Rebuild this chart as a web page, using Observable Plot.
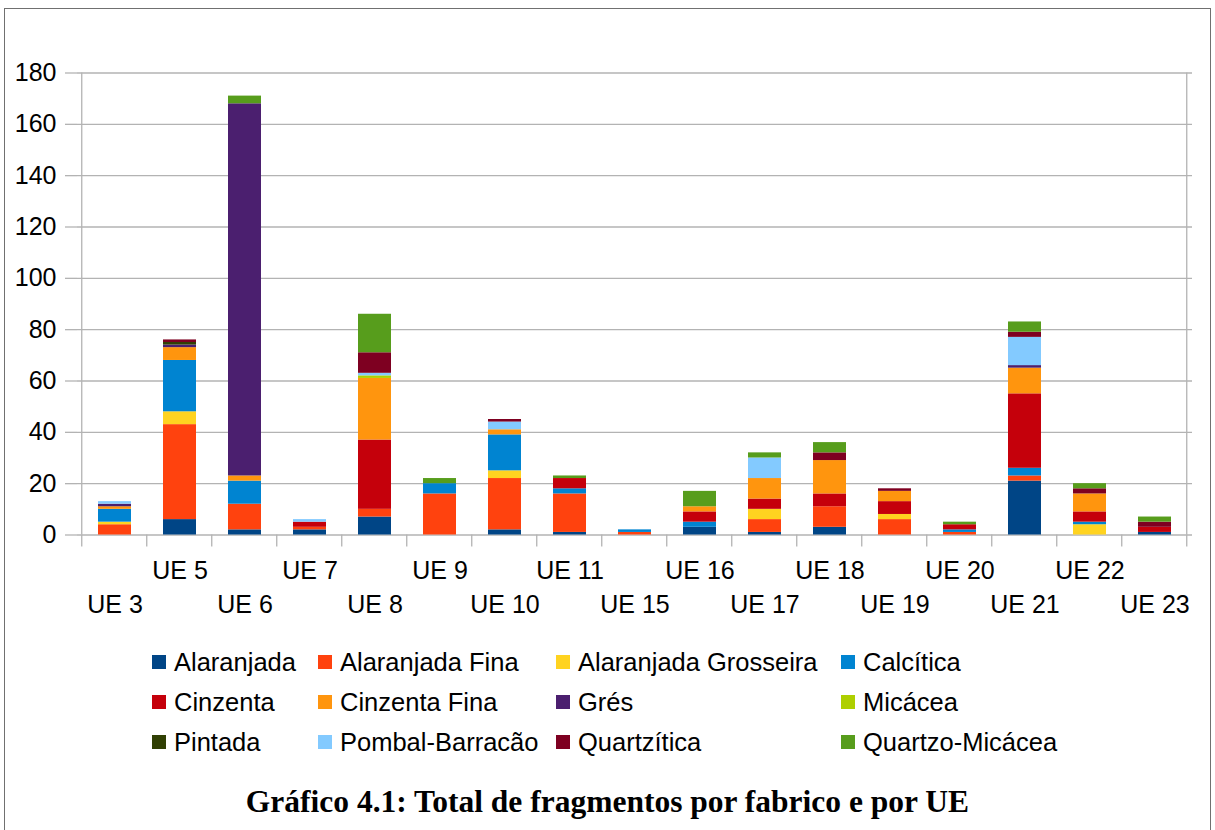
<!DOCTYPE html>
<html><head><meta charset="utf-8">
<script src="https://cdn.jsdelivr.net/npm/d3@7"></script>
<script src="https://cdn.jsdelivr.net/npm/@observablehq/plot@0.6"></script>
<style>
body{margin:0;background:#fff;font-family:"Liberation Sans",Arial,sans-serif;}
#wrap{position:relative;width:1215px;height:830px;overflow:hidden;background:#fff;}
#border{position:absolute;left:4px;top:8px;width:1207px;height:900px;border:1.5px solid #707070;box-sizing:border-box;}
#chart{position:absolute;left:0;top:0;}
.leg{position:absolute;display:flex;align-items:center;height:30px;font-size:25.5px;white-space:nowrap;color:#000;}
.sw{width:14px;height:14px;margin-right:8px;flex:none;}
#title{position:absolute;left:0;width:1215px;top:784px;line-height:38px;text-align:center;font:bold 31.5px "Liberation Serif","Times New Roman",serif;color:#000;}
</style></head>
<body>
<div id="wrap"><div id="border"></div><div id="chart"></div><div id="legend"></div><div id="title"></div></div>
<script>
const categories = ["UE 3","UE 5","UE 6","UE 7","UE 8","UE 9","UE 10","UE 11","UE 15","UE 16","UE 17","UE 18","UE 19","UE 20","UE 21","UE 22","UE 23"];
const series = ["Alaranjada","Alaranjada Fina","Alaranjada Grosseira","Calcítica","Cinzenta","Cinzenta Fina","Grés","Micácea","Pintada","Pombal-Barracão","Quartzítica","Quartzo-Micácea"];
const colors = ["#004586","#ff420e","#ffd320","#0084d1","#c5000b","#ff950e","#4b1f6f","#aecf00","#314004","#83caff","#7e0021","#579d1c"];
const yTicks = [0,20,40,60,80,100,120,140,160,180];

const alaranjada          = [0, 6,  2, 2,  7,  0,  2,  1, 0, 3, 1, 3, 0, 0, 21, 0, 1];
const alaranjadaFina      = [4, 37, 10, 1, 3,  16, 20, 15, 1, 0, 5, 8, 6, 1, 2,  0, 0];
const alaranjadaGrosseira = [1, 5,  0, 0,  0,  0,  3,  0, 0, 0, 4, 0, 2, 0, 0,  4, 0];
const calcitica           = [5, 20, 9, 0,  0,  4,  14, 2, 1, 2, 0, 0, 0, 1, 3,  1, 0];
const cinzenta            = [0, 0,  0, 2,  27, 0,  0,  4, 0, 4, 4, 5, 5, 2, 29, 4, 2];
const cinzentaFina        = [1, 5,  2, 0,  24, 0,  2,  0, 0, 2, 8, 13, 4, 0, 10, 7, 0];
const gres                = [1, 1, 145, 0, 0,  0,  0,  0, 0, 0, 0, 0, 0, 0, 1,  0, 0];
const micacea             = [0, 0,  0, 0,  1,  0,  0,  0, 0, 0, 0, 0, 0, 0, 0,  0, 0];
const pintada             = [0, 1,  0, 0,  0,  0,  0,  0, 0, 0, 0, 0, 0, 0, 0,  0, 0];
const pombalBarracao      = [1, 0,  0, 1,  1,  0,  3,  0, 0, 0, 8, 0, 0, 0, 11, 0, 0];
const quartzitica         = [0, 1,  0, 0,  8,  0,  1,  0, 0, 0, 0, 3, 1, 0, 2,  2, 2];
const quartzoMicacea      = [0, 0,  3, 0,  15, 2,  0,  1, 0, 6, 2, 4, 0, 1, 4,  2, 2];

const valuesBySeries = [alaranjada, alaranjadaFina, alaranjadaGrosseira, calcitica, cinzenta, cinzentaFina, gres, micacea, pintada, pombalBarracao, quartzitica, quartzoMicacea];

const data = [];
series.forEach((s, si) => valuesBySeries[si].forEach((v, ci) => {
  if (v > 0) data.push({ue: categories[ci], fabrico: s, n: v});
}));

const padInner = 0.5;
const gridColor = "#b3b3b3";

function boundaryTicks(index, scales, values, dims) {
  const x = scales.x;
  const pos = categories.map(c => x(c));
  const step = pos[1] - pos[0];
  const bw = step * (1 - padInner);
  const half = (step - bw) / 2;
  const bounds = pos.map(p => p - half);
  bounds.push(pos[pos.length - 1] + bw + half);
  const y0 = dims.height - dims.marginBottom;
  const g = d3.create("svg:g").attr("stroke", gridColor).attr("stroke-width", 1.3);
  for (const b of bounds) g.append("line").attr("x1", b).attr("x2", b).attr("y1", y0).attr("y2", y0 + 12);
  for (const b of [bounds[0], bounds[bounds.length - 1]])
    g.append("line").attr("x1", b).attr("x2", b).attr("y1", dims.marginTop).attr("y2", y0);
  return g.node();
}

const upper = categories.filter((_, i) => i % 2 === 1);
const lower = categories.filter((_, i) => i % 2 === 0);

const chart = Plot.plot({
  width: 1215,
  height: 640,
  marginLeft: 77,
  marginRight: 23,
  marginTop: 72.5,
  marginBottom: 105.5,
  style: {fontFamily: "'Liberation Sans', Arial, sans-serif", background: "transparent", overflow: "visible"},
  x: {domain: categories, paddingInner: padInner, paddingOuter: padInner / 2, axis: null},
  y: {domain: [0, 180]},
  color: {domain: series, range: colors},
  marks: [
    Plot.gridY(yTicks, {stroke: gridColor, strokeOpacity: 1, strokeWidth: 1.3}),
    Plot.barY(data, {x: "ue", y: "n", fill: "fabrico"}),
    Plot.axisY({ticks: yTicks, tickSize: 12, tickPadding: 9, fontSize: 25, stroke: gridColor, strokeWidth: 1.3, fill: "#000", label: null}),
    boundaryTicks,
    Plot.text(upper, {x: d => d, text: d => d, frameAnchor: "bottom", dy: 36, fontSize: 25, fill: "#000", lineAnchor: "middle"}),
    Plot.text(lower, {x: d => d, text: d => d, frameAnchor: "bottom", dy: 70, fontSize: 25, fill: "#000", lineAnchor: "middle"})
  ]
});
document.getElementById("chart").appendChild(chart);

const legCols = [152, 318, 556, 841];
const legRows = [662, 702, 742];
const legend = document.getElementById("legend");
series.forEach((s, i) => {
  const d = document.createElement("div");
  d.className = "leg";
  d.style.left = legCols[i % 4] + "px";
  d.style.top = (legRows[Math.floor(i / 4)] - 15) + "px";
  const sw = document.createElement("span");
  sw.className = "sw";
  sw.style.background = colors[i];
  d.appendChild(sw);
  d.appendChild(document.createTextNode(s));
  legend.appendChild(d);
});
document.getElementById("title").textContent = "Gráfico 4.1: Total de fragmentos por fabrico e por UE";
</script>
</body></html>
